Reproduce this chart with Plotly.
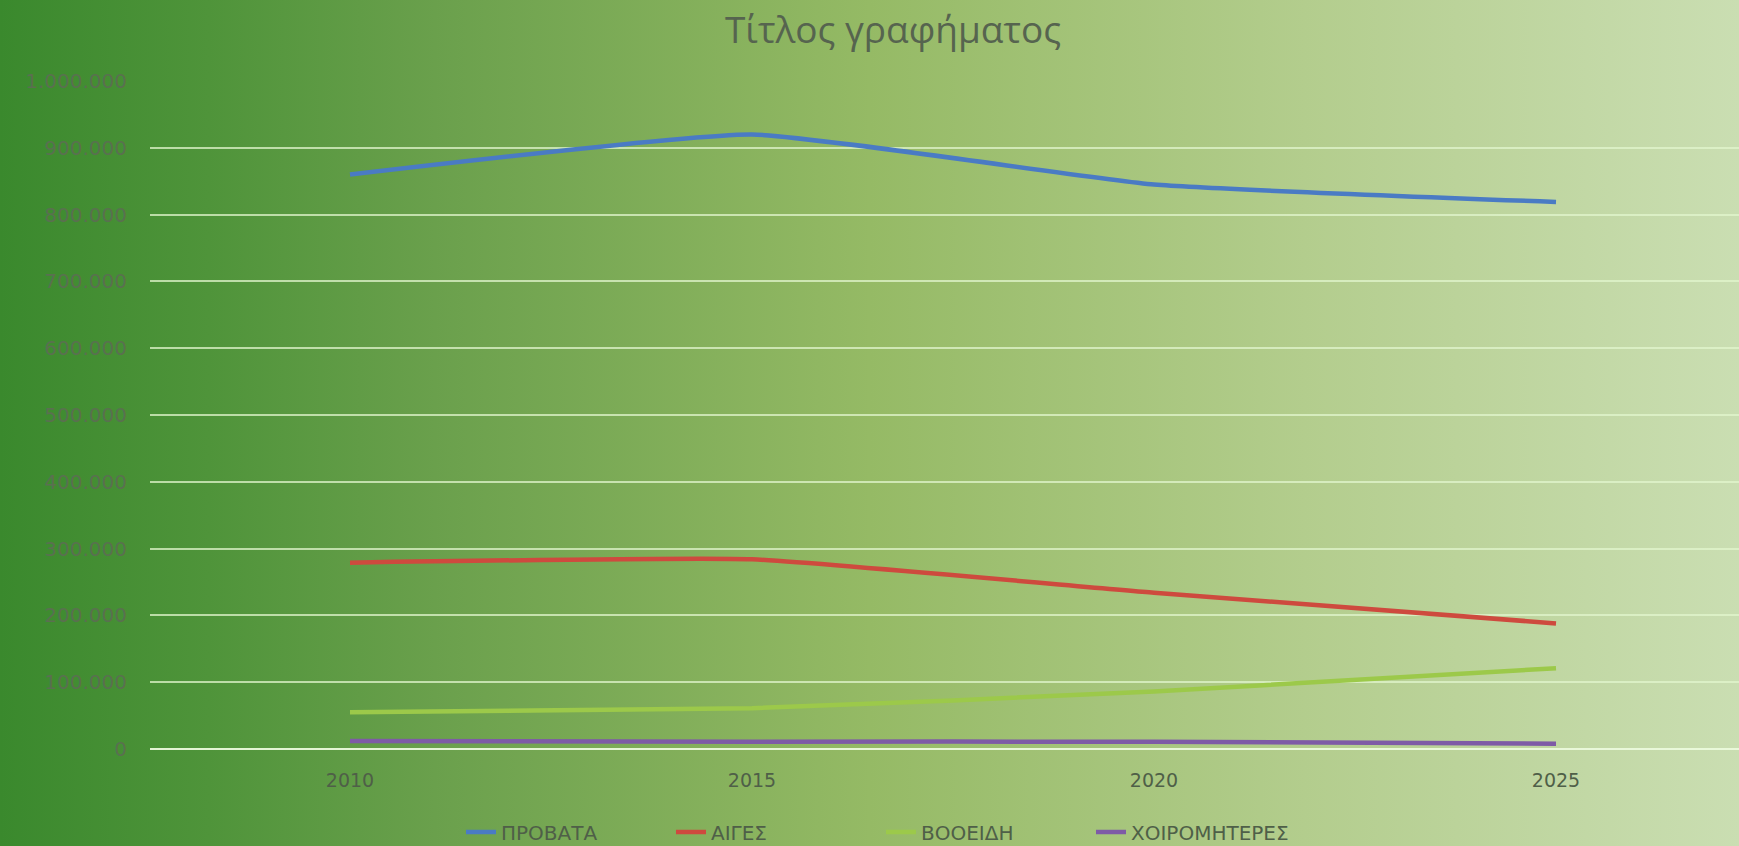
import base64
import plotly.graph_objects as go

years = ["2010", "2015", "2020", "2025"]
provata = [860000, 920000, 845000, 819000]
aiges = [279000, 284000, 234000, 188000]
booeidi = [55000, 61000, 86000, 121000]
xoiromiteres = [12000, 11000, 11000, 8000]
series_names = ["ΠΡΟΒΑΤΑ", "ΑΙΓΕΣ", "ΒΟΟΕΙΔΗ", "ΧΟΙΡΟΜΗΤΕΡΕΣ"]
series_values = [provata, aiges, booeidi, xoiromiteres]
series_colors = ["#4A7BC4", "#CE4A3E", "#9CC94A", "#7E5BA6"]
y_ticks = [0, 100000, 200000, 300000, 400000, 500000, 600000, 700000, 800000, 900000, 1000000]

W, H = 1739, 846
ml, mr, mt, mb = 150, 0, 81, 97
pw, ph = W - ml - mr, H - mt - mb

svg = f'''<svg xmlns="http://www.w3.org/2000/svg" width="{W}" height="{H}" viewBox="0 0 {W} {H}" preserveAspectRatio="none">
<defs><linearGradient id="g" x1="0" y1="0" x2="1" y2="0">
<stop offset="0" stop-color="#3A892D"/>
<stop offset="0.12" stop-color="#4F943A"/>
<stop offset="0.25" stop-color="#6AA04C"/>
<stop offset="0.5" stop-color="#95BA65"/>
<stop offset="0.75" stop-color="#B3CD8D"/>
<stop offset="1" stop-color="#CADEB2"/>
</linearGradient></defs>
<rect x="0" y="0" width="{W}" height="{H}" fill="url(#g)"/>
</svg>'''
src = "data:image/svg+xml;base64," + base64.b64encode(svg.encode()).decode()

fig = go.Figure()
for name, vals, col in zip(series_names, series_values, series_colors):
    fig.add_trace(go.Scatter(
        x=list(range(len(years))), y=vals, name=name, mode="lines",
        line=dict(color=col, width=4.5, shape="spline", smoothing=0.4),
    ))

fig.add_layout_image(dict(
    source=src, xref="paper", yref="paper",
    x=-ml / pw, y=1 + (mt + 2) / ph, sizex=W / pw, sizey=(H + 6) / ph,
    xanchor="left", yanchor="top", sizing="stretch", layer="below", opacity=1,
))

x0 = 350
step = 402
fig.update_layout(
    width=W, height=H,
    margin=dict(l=ml, r=mr, t=mt, b=mb, autoexpand=False),
    paper_bgcolor="#8DB560", plot_bgcolor="rgba(0,0,0,0)",
    separators=",.",
    title=dict(text="Τίτλος γραφήματος", x=893 / W, xanchor="center", y=1 - 30 / H, yanchor="middle",
               font=dict(family="Open Sans", size=37, color="#56644F")),
    xaxis=dict(
        range=[-(x0 - ml) / step, (W - mr - x0) / step],
        tickvals=list(range(len(years))), ticktext=years,
        showgrid=False, zeroline=False, showline=False, ticks="",
        tickfont=dict(family="DejaVu Sans", size=19, color="#4F5F48"),
        ticklabelstandoff=18,
    ),
    yaxis=dict(
        range=[0, 1000000], tickvals=y_ticks, tickformat=",d",
        showgrid=True, gridcolor="rgba(225,245,205,0.75)", gridwidth=1.6,
        zeroline=True, zerolinecolor="rgba(235,250,220,0.95)", zerolinewidth=1.8,
        showline=False, ticks="",
        tickfont=dict(family="DejaVu Sans", size=20, color="#5A7050"),
        ticklabelstandoff=22,
    ),
    legend=dict(orientation="h", x=800 / W, xanchor="center", yanchor="middle",
                font=dict(family="DejaVu Sans", size=20, color="#4F5F48"),
                bgcolor="rgba(0,0,0,0)", tracegroupgap=0,
                entrywidth=165, entrywidthmode="pixels"),
    showlegend=True,
)
fig.update_layout(legend_y=-(832 - (mt + ph)) / ph)

fig.write_html("out.html", config={"displayModeBar": False},
               post_script="document.body.style.margin='0';document.body.style.overflow='hidden';")
